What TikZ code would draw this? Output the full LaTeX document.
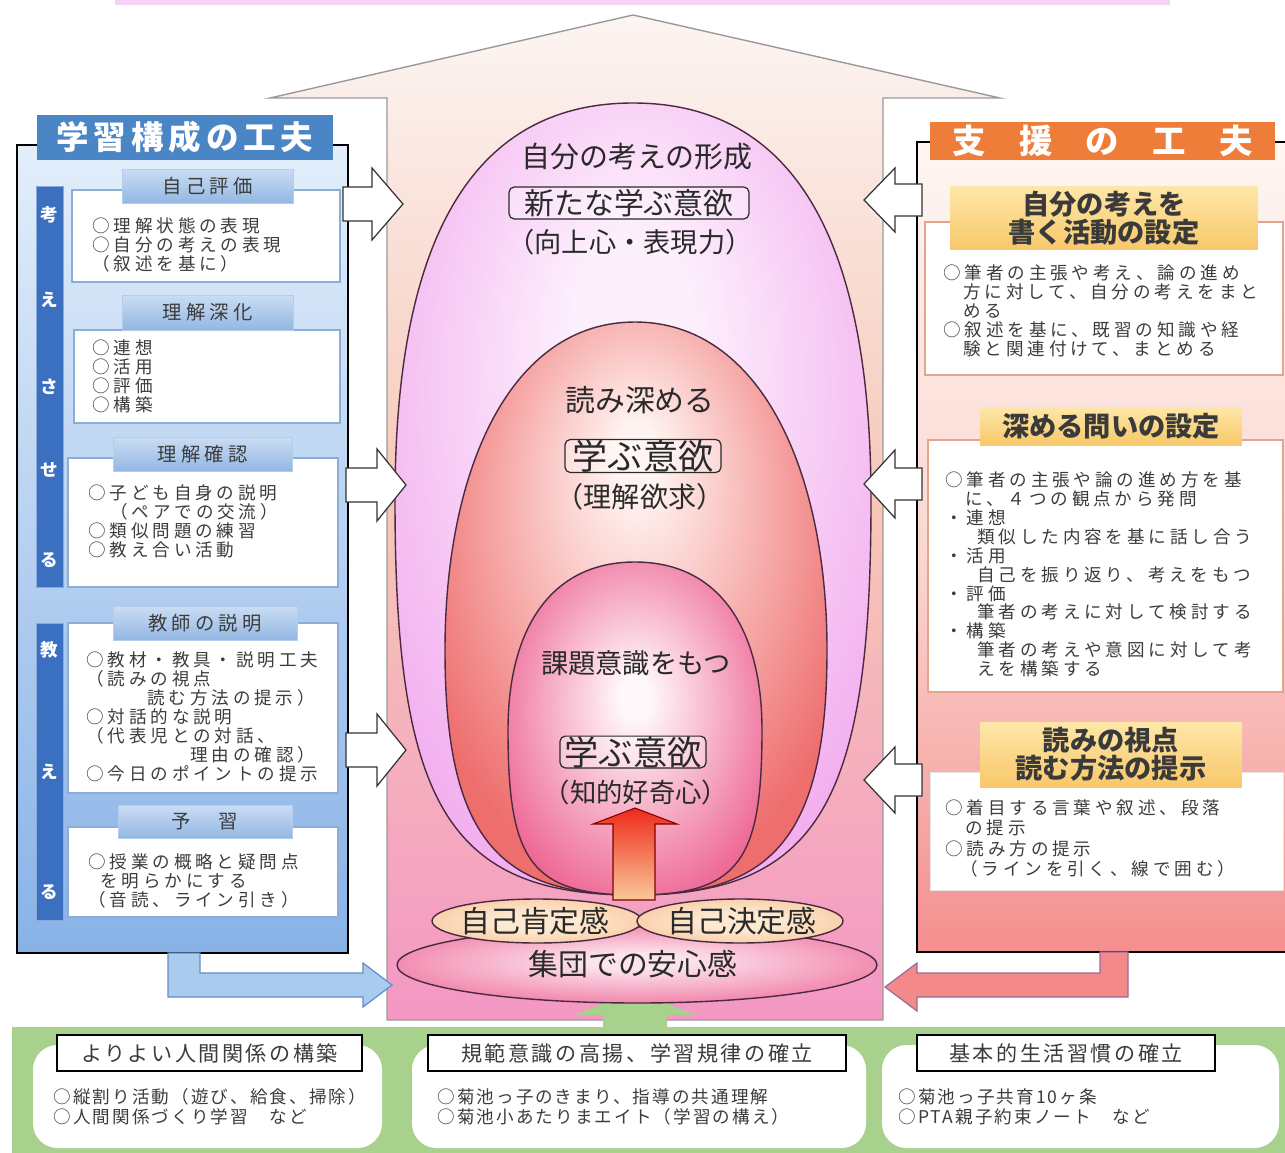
\documentclass[tikz,border=0pt]{standalone}
\usepackage{fontspec}
\setmainfont{Noto Sans CJK JP}
\newfontfamily\jpS[LetterSpace=22]{Noto Sans CJK JP}
\newfontfamily\jpM[LetterSpace=12]{Noto Sans CJK JP}
\newfontfamily\jpT[LetterSpace=15]{Noto Sans CJK JP}
\usetikzlibrary{shapes.geometric}
\definecolor{txt}{HTML}{3C3C3C}
\definecolor{egtxtC}{HTML}{2A2A2A}
\definecolor{hTop}{HTML}{FCF5F2}
\definecolor{hMid}{HTML}{F6C6B6}
\definecolor{hBot}{HTML}{F497C4}
\definecolor{hLine}{HTML}{9A9A9A}
\definecolor{lpTop}{HTML}{E3EEFA}
\definecolor{lpBot}{HTML}{88B2E7}
\definecolor{ltitle}{HTML}{4A85C5}
\definecolor{stripC}{HTML}{3B6FC0}
\definecolor{lhTop}{HTML}{CADDF3}
\definecolor{lhBot}{HTML}{93B7E3}
\definecolor{cbLine}{HTML}{8AAED8}
\definecolor{rpTop}{HTML}{FFF6F2}
\definecolor{rpMid}{HTML}{FBD8D2}
\definecolor{rpBot}{HTML}{F48F8E}
\definecolor{rtitle}{HTML}{EF7D3A}
\definecolor{yTop}{HTML}{FDE7A8}
\definecolor{yBot}{HTML}{F8C86A}
\definecolor{ytxt}{HTML}{3A3A3A}
\definecolor{rbLine}{HTML}{E6A58A}
\definecolor{eAin}{HTML}{FDF0FD}
\definecolor{eAout}{HTML}{F2AAEE}
\definecolor{eBin}{HTML}{FFF3F0}
\definecolor{eBout}{HTML}{EE6D6D}
\definecolor{eCin}{HTML}{FFF8FA}
\definecolor{eCout}{HTML}{EB5588}
\definecolor{eggline}{HTML}{4A2A40}
\definecolor{gbar}{HTML}{A9D18E}
\definecolor{topbar}{HTML}{F4D3F4}
\definecolor{bluearr}{HTML}{A9CBEE}
\definecolor{bluearrL}{HTML}{5F8FCA}
\definecolor{pinkarr}{HTML}{F4898A}
\definecolor{pinkarrL}{HTML}{9A6A9A}
\definecolor{redTop}{HTML}{EE2A1A}
\definecolor{redBot}{HTML}{F9C89A}
\definecolor{peachIn}{HTML}{FDE8D0}
\definecolor{peachOut}{HTML}{F6B27E}
\definecolor{anIn}{HTML}{FCE4EE}
\definecolor{anOut}{HTML}{EC5589}
\pgfdeclareradialshading{shA}{\pgfpoint{0bp}{12bp}}{color(0bp)=(eAin); color(6bp)=(eAin); color(33bp)=(eAout); color(50bp)=(eAout)}
\pgfdeclareradialshading{shB}{\pgfpoint{0bp}{14bp}}{color(0bp)=(eBin); color(3bp)=(eBin); color(30bp)=(eBout); color(50bp)=(eBout)}
\pgfdeclareradialshading{shC}{\pgfpoint{0bp}{5bp}}{color(0bp)=(eCin); color(3bp)=(eCin); color(33bp)=(eCout); color(50bp)=(eCout)}
\pgfdeclareradialshading{shD}{\pgfpoint{0bp}{3bp}}{color(0bp)=(anIn); color(5bp)=(anIn); color(38bp)=(anOut); color(50bp)=(anOut)}
\pgfdeclareradialshading{shE}{\pgfpoint{0bp}{0bp}}{color(0bp)=(peachIn); color(10bp)=(peachIn); color(45bp)=(peachOut); color(50bp)=(peachOut)}
\newcommand\rightarr[5]{\draw[oarrow] (#1,#5-17) -- (#2,#5-17) -- (#2,#5-36) -- (#3,#5) -- (#2,#5+36) -- (#2,#5+17) -- (#1,#5+17) -- cycle;}
\newcommand\leftarr[5]{\draw[oarrow] (#1,#5-16) -- (#2,#5-16) -- (#2,#5-#4) -- (#3,#5) -- (#2,#5+#4) -- (#2,#5+16) -- (#1,#5+16) -- cycle;}
\begin{document}
\begin{tikzpicture}[x=0.02cm,y=-0.02cm,
 every node/.style={inner sep=0pt},
 body/.style={anchor=north west, align=left, text=txt, font=\jpS\fontsize{10}{10.8}\selectfont},
 bodyC/.style={anchor=north west, align=left, text=txt, font=\jpS\fontsize{10}{11.7}\selectfont},
 bodyB/.style={anchor=north west, align=left, text=txt, font=\jpM\fontsize{10}{11.4}\selectfont},
 lhd/.style={top color=lhTop, bottom color=lhBot, draw=lhBot!70, line width=0.4pt, text=txt, font=\jpS\fontsize{11}{12}\selectfont},
 cbox/.style={fill=white, draw=cbLine, line width=0.6pt},
 rbox/.style={fill=white, draw=rbLine, line width=0.6pt},
 strip/.style={fill=stripC, draw=stripC!60!white, line width=0.5pt},
 vlet/.style={text=white, font=\bfseries\fontsize{10}{10}\selectfont},
 yhd/.style={top color=yTop, bottom color=yBot, text=ytxt, align=center, font=\bfseries\fontsize{15.5}{14.8}\selectfont},
 oarrow/.style={fill=white, draw=black!80, line width=0.7pt},
 egtxt/.style={text=egtxtC},
 egbox/.style={draw=egtxtC, line width=0.7pt, rounded corners=3pt, fill=white, fill opacity=0.3, text opacity=1, text=egtxtC},
 bhd/.style={fill=white, draw=black, line width=0.8pt, text=txt, font=\jpM\fontsize{12}{12}\selectfont},
 wbox/.style={fill=white, rounded corners=14pt},
 eggdraw/.style={draw=eggline, line width=0.8pt},
]
\useasboundingbox (0,0) rectangle (1285,1153);
\fill[white] (0,0) rectangle (1285,1153);
% top bar
\fill[topbar] (115,0) rectangle (1170,5);
% house arrow
\shadedraw[top color=hTop, bottom color=hBot, middle color=hMid, draw=hLine, line width=0.8pt]
 (633,15) -- (1000,98) -- (883,98) -- (883,1020) -- (387,1020) -- (387,98) -- (270,98) -- cycle;
% green bar and arrow
\fill[gbar] (12,1027) rectangle (1290,1158);
\fill[gbar] (603,1030) -- (603,1015) -- (575,1015) -- (635,990) -- (695,1015) -- (667,1015) -- (667,1030) -- cycle;
% eggs
\shadedraw[shading=shA, eggdraw] (633,103) .. controls (800,103) and (871,250) .. (871,500) .. controls (871,800) and (820,895) .. (633,895) .. controls (446,895) and (395,800) .. (395,500) .. controls (395,250) and (466,103) .. (633,103) -- cycle;
\shadedraw[shading=shB, eggdraw] (635,322) .. controls (760,322) and (827,470) .. (827,650) .. controls (827,840) and (770,895) .. (635,895) .. controls (500,895) and (445,840) .. (445,650) .. controls (445,470) and (510,322) .. (635,322) -- cycle;
\shadedraw[shading=shC, eggdraw] (635,562) .. controls (720,562) and (762,630) .. (762,730) .. controls (762,860) and (740,895) .. (635,895) .. controls (530,895) and (508,860) .. (508,730) .. controls (508,630) and (550,562) .. (635,562) -- cycle;
% egg texts
\node[egtxt, font=\fontsize{16.5}{16.5}\selectfont] (t1) at (637,157) {自分の考えの形成};
\node[egbox, minimum width=4.8cm, minimum height=0.64cm, font=\fontsize{17}{17}\selectfont] (t2) at (629,203) {新たな学ぶ意欲};
\node[egtxt, font=\fontsize{15.5}{15.5}\selectfont] (t3) at (630,242) {（向上心・表現力）};
\node[egtxt, font=\fontsize{17}{17}\selectfont] (t4) at (640,400) {読み深める};
\node[egbox, minimum width=3.12cm, minimum height=0.66cm, font=\fontsize{20}{20}\selectfont] (t5) at (643,456) {学ぶ意欲};
\node[egtxt, font=\fontsize{16}{16}\selectfont] (t6) at (640,497) {（理解欲求）};
\node[egtxt, font=\fontsize{15.5}{15.5}\selectfont] (t7) at (636,663) {課題意識をもつ};
\node[egbox, minimum width=2.92cm, minimum height=0.62cm, font=\fontsize{19.5}{19.5}\selectfont] (t8) at (633,752) {学ぶ意欲};
\node[egtxt, font=\fontsize{15}{15}\selectfont] (t9) at (636,792) {（知的好奇心）};
% red arrow
\shadedraw[top color=redTop, bottom color=redBot, draw=red!50!black, line width=0.6pt]
 (613,900) -- (613,824) -- (593,824) -- (635,808) -- (677,824) -- (655,824) -- (655,900) -- cycle;
% bottom ellipses
\shadedraw[shading=shD, eggdraw] (637,965) ellipse [x radius=240, y radius=38];
\shadedraw[shading=shE, eggdraw] (537,921) ellipse [x radius=105, y radius=22];
\shadedraw[shading=shE, eggdraw] (740,921) ellipse [x radius=103, y radius=22];
\node[egtxt, font=\fontsize{17}{17}\selectfont] (e1) at (535,921) {自己肯定感};
\node[egtxt, font=\fontsize{17}{17}\selectfont] (e2) at (742,921) {自己決定感};
\node[egtxt, font=\fontsize{17}{17}\selectfont] (e3) at (633,964) {集団での安心感};
% ===== left panel =====
\shade[top color=lpTop, bottom color=lpBot] (17,145) rectangle (348,953);
\draw[black, line width=0.8pt] (37,145) -- (17,145) -- (17,953) -- (348,953) -- (348,145) -- (333,145);
\node[fill=ltitle, minimum width=5.92cm, minimum height=0.9cm, text=white, font=\jpT\bfseries\fontsize{18.5}{18.5}\selectfont] (ltit) at (185,137.5) {学習構成の工夫};
\draw[strip] (36,186) rectangle (63,587);
\draw[strip] (36,623) rectangle (63,920);
\node[vlet] (v1) at (49,215) {考};
\node[vlet] (v2) at (49,300) {え};
\node[vlet] (v3) at (49,387) {さ};
\node[vlet] (v4) at (49,470) {せ};
\node[vlet] (v5) at (49,560) {る};
\node[vlet] (v6) at (49,650) {教};
\node[vlet] (v7) at (49,772) {え};
\node[vlet] (v8) at (49,892) {る};
\draw[cbox] (72,190) rectangle (340,282);
\draw[cbox] (74,330) rectangle (340,423);
\draw[cbox] (68,458) rectangle (338,587);
\draw[cbox] (68,623) rectangle (338,793);
\draw[cbox] (68,827) rectangle (338,917);
\node[lhd, minimum width=3.42cm, minimum height=0.68cm] (hA) at (207.5,186) {自己評価};
\node[lhd, minimum width=3.42cm, minimum height=0.70cm] (hB) at (207.5,312.5) {理解深化};
\node[lhd, minimum width=3.58cm, minimum height=0.68cm] (hC) at (202.5,454) {理解確認};
\node[lhd, minimum width=3.68cm, minimum height=0.68cm] (hD) at (205,623) {教師の説明};
\node[lhd, minimum width=3.48cm, minimum height=0.66cm] (hE) at (205,821.5) {予　習};
\node[body] (bA) at (92,217) {○理解状態の表現\\○自分の考えの表現\\（叙述を基に）};
\node[body] (bB) at (92,339) {○連想\\○活用\\○評価\\○構築};
\node[body] (bC) at (88,484) {○子ども自身の説明\\\hspace{0.44cm}（ペアでの交流）\\○類似問題の練習\\○教え合い活動};
\node[body] (bD) at (86,651) {○教材・教具・説明工夫\\（読みの視点\\\hspace{1.22cm}読む方法の提示）\\○対話的な説明\\（代表児との対話、\\\hspace{2.08cm}理由の確認）\\○今日のポイントの提示};
\node[body] (bE) at (88,853) {○授業の概略と疑問点\\\hspace{0.24cm}を明らかにする\\（音読、ライン引き）};
% left outline arrows
\rightarr{343}{372}{403}{36}{204}
\rightarr{346}{377}{406}{36}{485}
\rightarr{346}{377}{406}{36}{750}
% ===== right panel =====
\shade[top color=rpTop, bottom color=rpBot, middle color=rpMid] (917,142) rectangle (1290,952);
\draw[black, line width=0.8pt] (930,142) -- (917,142) -- (917,952) -- (1290,952);
\draw[black, line width=0.8pt] (1275,142) -- (1290,142);
\node[fill=rtitle, minimum width=6.9cm, minimum height=0.76cm, text=white, font=\bfseries\fontsize{19}{19}\selectfont] (rtit) at (1102.5,141) {支　援　の　工　夫};
\draw[rbox] (925,222) rectangle (1283,375);
\draw[rbox] (928,440) rectangle (1283,692);
\draw[fill=white, draw=white!90!black, line width=0.4pt] (930,772) rectangle (1283,890);
\node[yhd, minimum width=6.16cm, minimum height=1.28cm] (yA) at (1104,218) {自分の考えを\\書く活動の設定};
\node[yhd, minimum width=5.24cm, minimum height=0.76cm] (yB) at (1111,426) {深める問いの設定};
\node[yhd, minimum width=5.24cm, minimum height=1.3cm] (yC) at (1111,754.5) {読みの視点\\読む方法の提示};
\node[body] (rA) at (943,264) {○筆者の主張や考え、論の進め\\\hspace{0.4cm}方に対して、自分の考えをまと\\\hspace{0.4cm}める\\○叙述を基に、既習の知識や経\\\hspace{0.4cm}験と関連付けて、まとめる};
\node[body] (rB) at (945,471) {○筆者の主張や論の進め方を基\\\hspace{0.4cm}に、４つの観点から発問\\・連想\\\hspace{0.64cm}類似した内容を基に話し合う\\・活用\\\hspace{0.64cm}自己を振り返り、考えをもつ\\・評価\\\hspace{0.64cm}筆者の考えに対して検討する\\・構築\\\hspace{0.64cm}筆者の考えや意図に対して考\\\hspace{0.64cm}えを構築する};
\node[bodyC] (rC) at (945,799) {○着目する言葉や叙述、段落\\\hspace{0.4cm}の提示\\○読み方の提示\\\hspace{0.3cm}（ラインを引く、線で囲む）};
% right outline arrows
\leftarr{922}{895}{864}{32}{200}
\leftarr{922}{895}{864}{34}{484}
\leftarr{922}{895}{864}{33}{780}
% L arrows
\draw[fill=bluearr, draw=bluearrL, line width=0.7pt] (168,953) -- (200,953) -- (200,973) -- (363,973) -- (363,963) -- (392,985) -- (363,1007) -- (363,997) -- (168,997) -- cycle;
\draw[fill=pinkarr, draw=pinkarrL, line width=0.7pt] (1128,952) -- (1100,952) -- (1100,973) -- (917,973) -- (917,963) -- (885,987) -- (917,1011) -- (917,997) -- (1128,997) -- cycle;
% ===== bottom boxes =====
\fill[wbox] (33,1045) rectangle (382,1148);
\fill[wbox] (412,1045) rectangle (866,1148);
\fill[wbox] (882,1045) rectangle (1279,1148);
\node[bhd, minimum width=6.1cm, minimum height=0.72cm] (g1) at (209.5,1053) {よりよい人間関係の構築};
\node[bhd, minimum width=8.36cm, minimum height=0.72cm] (g2) at (637,1053) {規範意識の高揚、学習規律の確立};
\node[bhd, minimum width=5.96cm, minimum height=0.72cm] (g3) at (1066,1053) {基本的生活習慣の確立};
\node[bodyB] (gb1) at (53,1088) {○縦割り活動（遊び、給食、掃除）\\○人間関係づくり学習　など};
\node[bodyB] (gb2) at (437,1088) {○菊池っ子のきまり、指導の共通理解\\○菊池小あたりまエイト（学習の構え）};
\node[bodyB] (gb3) at (898,1088) {○菊池っ子共育10ヶ条\\○PTA親子約束ノート　など};
\end{tikzpicture}
\end{document}
